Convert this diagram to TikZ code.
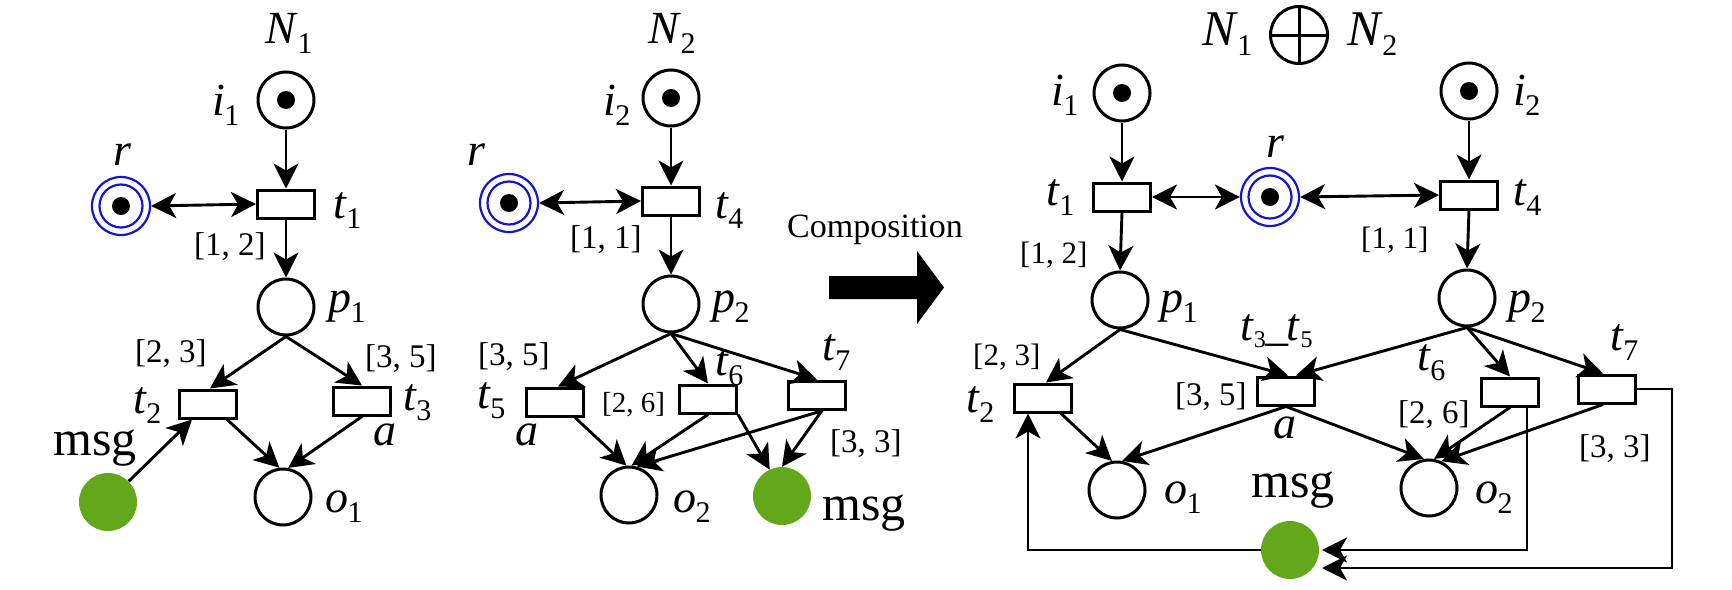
\documentclass[tikz,border=0pt]{standalone}
\usepackage{fontspec}
\usepackage{graphicx}
\setmainfont{Liberation Serif}
\usetikzlibrary{arrows.meta,calc}
\definecolor{ringblue}{RGB}{20,20,210}
\definecolor{msggreen}{RGB}{99,168,26}
\newcommand{\vsub}[2]{\textit{#1}\kern-0.5pt\raisebox{-10pt}{\fontsize{30}{30}\selectfont #2}}
\newcommand{\ssub}[1]{\raisebox{-7pt}{\fontsize{24}{24}\selectfont #1}}
\begin{document}
\begin{tikzpicture}[x=1pt,y=-1pt,
 every node/.style={inner sep=0pt},
 place/.style={circle,draw,line width=3pt,minimum size=56pt},
 respl/.style={circle,draw=ringblue,line width=2.2pt,minimum size=58pt},
 msgpl/.style={circle,fill=msggreen,minimum size=58pt},
 trans/.style={rectangle,draw,line width=3pt,minimum width=57pt,minimum height=28pt},
 lab/.style={anchor=base west,font=\fontsize{46}{46}\selectfont},
 ivl/.style={anchor=base west,font=\fontsize{33}{33}\selectfont},
 ivs/.style={anchor=base west,font=\fontsize{29}{29}\selectfont},
 msgl/.style={anchor=base west,font=\fontsize{50}{50}\selectfont},
 arr/.style={line width=2.9pt,-{Stealth[length=25pt,width=25pt,inset=7pt]}},
 barr/.style={line width=2.9pt,{Stealth[length=25pt,width=25pt,inset=7pt]}-{Stealth[length=25pt,width=25pt,inset=7pt]}},
]
\useasboundingbox (0,0) rectangle (1732,589);

% ---------------- N1 ----------------
\node[lab] (N1lab) at (265,43) {\vsub{N}{1}};
\node[place] (i1) at (286,100) {};
\fill (i1.center) circle[radius=9];
\node[lab] (i1lab) at (212,115) {\vsub{i}{1}};
\node[respl] (r1) at (121,206) {};
\draw[ringblue,line width=2.2pt] (r1.center) circle[radius=21.5];
\fill (r1.center) circle[radius=9];
\node[lab] (r1lab) at (113,165) {\textit{r}};
\node[trans] (t1) at (286,204) {};
\node[lab] (t1lab) at (333,218) {\vsub{t}{1}};
\node[ivl] (iv12) at (194,255) {[1, 2]};
\node[place] (p1) at (286,307) {};
\node[lab] (p1lab) at (328,312) {\vsub{p}{1}};
\node[ivl] (iv23) at (135,362) {[2, 3]};
\node[trans] (t2) at (208,404) {};
\node[lab] (t2lab) at (133,413) {\vsub{t}{2}};
\node[ivl] (iv35) at (365,367) {[3, 5]};
\node[trans] (t3) at (362,401) {};
\node[lab] (t3lab) at (403,410) {\vsub{t}{3}};
\node[lab] (alab1) at (373,445) {\textit{a}};
\node[msgpl] (m1) at (108,502) {};
\node[msgl] (m1lab) at (53,455) {msg};
\node[place] (o1) at (283,497) {};
\node[lab] (o1lab) at (325,512) {\vsub{o}{1}};

\draw[arr] (i1.south) -- (t1.north);
\draw[barr] (r1.east) -- (t1.west);
\draw[arr] (t1.south) -- (p1.north);
\draw[arr] (p1.south) -- ($(t2.north)+(2,0)$);
\draw[arr] (p1.south) -- (t3.north);
\draw[arr] ($(t2.south)+(19,0)$) -- (o1.97);
\draw[arr] (t3.south) -- (o1.80);
\draw[arr] (m1.45) -- ($(t2.south)+(-16,0)$);

% ---------------- N2 ----------------
\node[lab] (N2lab) at (648,43) {\vsub{N}{2}};
\node[place] (i2) at (671,98) {};
\fill (i2.center) circle[radius=9];
\node[lab] (i2lab) at (603,115) {\vsub{i}{2}};
\node[respl] (r2) at (509,203) {};
\draw[ringblue,line width=2.2pt] (r2.center) circle[radius=21.5];
\fill (r2.center) circle[radius=9];
\node[lab] (r2lab) at (467,165) {\textit{r}};
\node[trans] (t4) at (671,201) {};
\node[lab] (t4lab) at (715,218) {\vsub{t}{4}};
\node[ivl] (iv11) at (570,248) {[1, 1]};
\node[place] (p2) at (671,304) {};
\node[lab] (p2lab) at (712,312) {\vsub{p}{2}};
\node[ivl] (iv35b) at (478,365) {[3, 5]};
\node[trans] (t5) at (555,402) {};
\node[lab] (t5lab) at (477,408) {\vsub{t}{5}};
\node[lab] (alab2) at (515,445) {\textit{a}};
\node[ivs] (iv26) at (602,412) {[2, 6]};
\node[trans] (t6) at (708,399) {};
\node[lab] (t6lab) at (715,375) {\vsub{t}{6}};
\node[trans] (t7) at (817,395) {};
\node[lab] (t7lab) at (822,360) {\vsub{t}{7}};
\node[ivl] (iv33) at (830,452) {[3, 3]};
\node[place] (o2) at (629,495) {};
\node[lab] (o2lab) at (673,512) {\vsub{o}{2}};
\node[msgpl] (m2) at (782,496) {};
\node[msgl] (m2lab) at (822,520) {msg};

\draw[arr] (i2.south) -- (t4.north);
\draw[barr] (r2.east) -- (t4.west);
\draw[arr] (t4.south) -- (p2.north);
\draw[arr] (p2.south) -- ($(t5.north)+(3,0)$);
\draw[arr] (p2.south) -- (t6.north);
\draw[arr] (p2.south) -- (t7.north);
\draw[arr] ($(t5.south)+(20,0)$) -- (o2.95);
\draw[arr] (t6.south) -- (o2.85);
\draw[arr] ($(t7.south)+(6,0)$) -- (o2.75);
\draw[arr] (t6.south east) -- (m2.115);
\draw[arr] ($(t7.south)+(5,0)$) -- (m2.north);

% ---------------- composition arrow ----------------
\node[anchor=base west,font=\fontsize{34}{34}\selectfont] (comp) at (787,237) {Composition};
\fill (829,276) -- (917,276) -- (917,251) -- (944,287.5) -- (917,324) -- (917,299) -- (829,299) -- cycle;

% ---------------- N1 (+) N2 ----------------
\node[lab,font=\fontsize{50}{50}\selectfont] (NN1) at (1202,45) {\vsub{N}{1}};
\node[circle,draw,line width=3pt,minimum size=57pt] (oplus) at (1299,35) {};
\draw[line width=3pt] (oplus.north) -- (oplus.south) (oplus.west) -- (oplus.east);
\node[lab,font=\fontsize{50}{50}\selectfont] (NN2) at (1347,45) {\vsub{N}{2}};

\node[place] (i1R) at (1122,93) {};
\fill (i1R.center) circle[radius=9];
\node[lab] (i1Rl) at (1051,105) {\vsub{i}{1}};
\node[place] (i2R) at (1469,91) {};
\fill (i2R.center) circle[radius=9];
\node[lab] (i2Rl) at (1513,105) {\vsub{i}{2}};
\node[respl] (rR) at (1270,197) {};
\draw[ringblue,line width=2.2pt] (rR.center) circle[radius=21.5];
\fill (rR.center) circle[radius=9];
\node[lab] (rRl) at (1266,157) {\textit{r}};
\node[trans] (t1R) at (1122,197) {};
\node[lab] (t1Rl) at (1046,205) {\vsub{t}{1}};
\node[trans] (t4R) at (1469,195) {};
\node[lab] (t4Rl) at (1513,205) {\vsub{t}{4}};
\node[ivl,font=\fontsize{31}{31}\selectfont] (iv12R) at (1020,263) {[1, 2]};
\node[ivl,font=\fontsize{31}{31}\selectfont] (iv11R) at (1361,248) {[1, 1]};
\node[place] (p1R) at (1120,300) {};
\node[lab] (p1Rl) at (1160,312) {\vsub{p}{1}};
\node[place] (p2R) at (1467,298) {};
\node[lab] (p2Rl) at (1508,312) {\vsub{p}{2}};
\node[lab] (t35Rl) at (1240,340) {\textit{t}\ssub{3}\_\kern-2pt\textit{t}\ssub{5}};
\node[ivl,font=\fontsize{31}{31}\selectfont] (iv23R) at (973,365) {[2, 3]};
\node[trans] (t2R) at (1043,398) {};
\node[lab] (t2Rl) at (966,412) {\vsub{t}{2}};
\node[ivl] (iv35R) at (1175,405) {[3, 5]};
\node[trans] (t35R) at (1286,391) {};
\node[lab] (aR) at (1273,438) {\textit{a}};
\node[lab] (t6Rl) at (1417,370) {\vsub{t}{6}};
\node[trans] (t6R) at (1510,392) {};
\node[ivl] (iv26R) at (1398,423) {[2, 6]};
\node[trans] (t7R) at (1607,389) {};
\node[lab] (t7Rl) at (1610,350) {\vsub{t}{7}};
\node[ivl] (iv33R) at (1579,457) {[3, 3]};
\node[place] (o1R) at (1117,490) {};
\node[lab] (o1Rl) at (1164,503) {\vsub{o}{1}};
\node[place] (o2R) at (1429,488) {};
\node[lab] (o2Rl) at (1475,503) {\vsub{o}{2}};
\node[msgl] (mRl) at (1251,497) {msg};
\node[msgpl] (mR) at (1290,550) {};

\draw[arr] (i1R.south) -- (t1R.north);
\draw[arr] (i2R.south) -- (t4R.north);
\draw[barr] (t1R.east) -- (rR.west);
\draw[barr] (rR.east) -- (t4R.west);
\draw[arr] (t1R.south) -- (p1R.north);
\draw[arr] (t4R.south) -- (p2R.north);
\draw[arr] (p1R.south) -- ($(t2R.north)+(3,0)$);
\draw[arr] (p1R.south) -- ($(t35R.north)+(2,0)$);
\draw[arr] (p2R.south) -- ($(t35R.north)+(10,0)$);
\draw[arr] (p2R.south) -- (t6R.north);
\draw[arr] (p2R.south) -- ($(t7R.north)+(-4,0)$);
\draw[arr] ($(t2R.south)+(18,0)$) -- (o1R.100);
\draw[arr] (t35R.south) -- (o1R.80);
\draw[arr] (t35R.south) -- (o2R.100);
\draw[arr] (t6R.south) -- (o2R.80);
\draw[arr] ($(t7R.south)+(-4,0)$) -- (o2R.65);
\draw[arr] ($(t6R.south)+(17,0)$) |- ($(mR.center)+(32,0)$);
\draw[arr] (t7R.east) -- ++(35,0) |- ($(mR.center)+(32,18)$);
\draw[arr] (mR.west) -| ($(t2R.south)+(-15,0)$);
\end{tikzpicture}
\end{document}
